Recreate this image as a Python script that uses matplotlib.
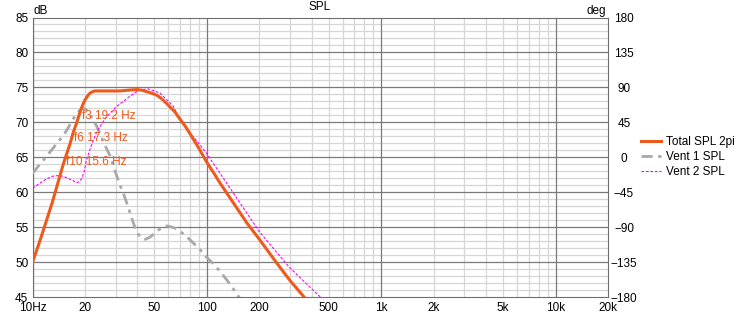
import matplotlib
matplotlib.use("Agg")
import matplotlib.pyplot as plt
import numpy as np

plt.rcParams["font.family"] = ["Liberation Sans", "DejaVu Sans"]
plt.rcParams["font.size"] = 8.5

# Total SPL 2pi (dB)
total_f = [10, 11, 12, 13, 14, 15, 15.7, 16.4, 17.1, 18, 18.75, 19.4, 20,
           20.7, 21.4, 22.1, 22.8, 25.5, 28, 31.8, 35, 39.6, 42.5, 45.2, 48,
           51.6, 55, 58.8, 65.6, 70, 75, 80, 90, 100, 110, 120, 142, 170, 200,
           250, 300, 374, 420]
total_db = [50.0, 53.0, 55.9, 58.6, 61.4, 64.0, 65.5, 66.9, 68.5, 70.1, 71.5,
            72.5, 73.2, 73.8, 74.2, 74.4, 74.5, 74.5, 74.5, 74.5, 74.6, 74.7,
            74.6, 74.4, 74.2, 73.9, 73.4, 72.7, 71.5, 70.5, 69.5, 68.4, 66.3,
            64.3, 62.7, 61.2, 58.5, 55.6, 53.3, 50.0, 47.4, 44.6, 43.0]

# Vent 1 SPL
vent1_f = [10, 11, 12, 13, 14, 15, 16, 17, 18, 19, 19.8, 20.6, 21.5, 22.5,
           23.3, 24.5, 25.5, 27, 27.8, 29.5, 31.7, 33.5, 35.5, 37, 38.7, 40.5,
           42.3, 44.5, 47.2, 50, 52.7, 55.5, 58.9, 62, 67, 73, 80.3, 91.4, 99,
           110, 119, 130, 140, 152, 165]
vent1_db = [62.7, 64.0, 65.1, 66.2, 67.2, 68.1, 69.2, 70.4, 71.3, 71.9, 72.0,
            71.7, 71.0, 70.2, 69.5, 68.3, 67.2, 65.9, 65.3, 63.3, 61.1, 59.6,
            57.8, 56.4, 55.0, 54.0, 53.4, 53.3, 53.6, 54.1, 54.6, 55.0, 55.2,
            55.1, 54.8, 54.1, 53.2, 51.8, 50.8, 49.7, 48.7, 47.5, 46.4, 45.1,
            43.8]

# Vent 2 SPL
vent2_f = [10, 11, 12, 13, 14, 15, 16, 17, 17.9, 18.5, 19.2, 19.8, 20.4, 21.4,
           22.3, 23.3, 24.4, 26, 27.8, 30.4, 33.2, 36, 39.6, 43, 46, 50, 53.9,
           58, 64.3, 70, 80, 90, 100, 120, 142, 170, 200, 250, 300, 445, 500]
vent2_db = [60.6, 61.3, 61.9, 62.3, 62.4, 62.3, 62.0, 61.7, 61.4, 61.5, 62.0,
            63.0, 64.6, 66.2, 67.4, 68.6, 69.4, 70.5, 71.3, 72.3, 73.0, 73.7,
            74.4, 74.7, 74.8, 74.5, 74.2, 73.4, 72.3, 70.4, 68.5, 67.0, 65.5,
            62.6, 59.9, 57.0, 54.4, 51.5, 49.2, 45.1, 44.0]

# corner frequencies
corner_labels = ["f3 19.2 Hz", "f6 17.3 Hz", "f10 15.6 Hz"]
corner_f = [19.2, 17.3, 15.6]
corner_y = [70.9, 67.8, 64.4]

xtick_f = [10, 20, 50, 100, 200, 500, 1000, 2000, 5000, 10000, 20000]
xtick_lbl = ["10Hz", "20", "50", "100", "200", "500", "1k", "2k", "5k", "10k", "20k"]
deg_ticks = np.arange(-180, 181, 45)

W, H = 739, 315
fig = plt.figure(figsize=(W / 100, H / 100), dpi=100)
ax = fig.add_axes([32.5 / W, (H - 297.3) / H, (608 - 32.5) / W, (297.3 - 17.5) / H])

ax.set_xscale("log")
ax.set_xlim(10, 20000)
ax.set_ylim(45, 85)

# grid, light then dark
light_x = [m * 10 ** d for d in range(1, 5) for m in range(2, 10) if m * 10 ** d < 20000]
ax.vlines(light_x, 45, 85, color="#d6d6d6", lw=0.9, zorder=0)
ax.hlines([v for v in range(46, 85) if v % 5], 10, 20000, color="#d6d6d6", lw=0.9, zorder=0)
ax.vlines([10, 100, 1000, 10000], 45, 85, color="#7a7a7a", lw=0.9, zorder=1)
ax.hlines(range(50, 85, 5), 10, 20000, color="#7a7a7a", lw=0.9, zorder=1)

ax.plot(total_f, total_db, color="#ee5a1c", lw=2.2, label="Total SPL 2pi",
        zorder=5, solid_joinstyle="round")
ax.plot(vent1_f, vent1_db, color="#a9a9a9", lw=2.0, dashes=(4, 2, 1.2, 2),
        label="Vent 1 SPL", zorder=3)
ax.plot(vent2_f, vent2_db, color="#ff00ff", lw=0.8, dashes=(2.5, 1.5),
        label="Vent 2 SPL", zorder=4)

for lbl, f, y in zip(corner_labels, corner_f, corner_y):
    ax.text(f, y, lbl, color="#ee5a1c", ha="left", va="center", fontsize=8.5, zorder=6)

ax.set_xticks(xtick_f, xtick_lbl)
ax.minorticks_off()
ax.set_yticks(range(45, 86, 5))
ax.tick_params(length=0, pad=3, colors="black")
ax.tick_params(axis="x", pad=3.5)
for s in ax.spines.values():
    s.set_color("#6e6e6e")

ax2 = ax.twinx()
ax2.set_ylim(-180, 180)
ax2.set_yticks(deg_ticks)
ax2.tick_params(length=0, pad=11.5)
for t in ax2.get_yticklabels():
    t.set_horizontalalignment("center")
for s in ax2.spines.values():
    s.set_visible(False)

fig.text(320 / W, 1 - 7.5 / H, "SPL", ha="center", va="center")
fig.text(34 / W, 1 - 11 / H, "dB", ha="left", va="center")
fig.text(606 / W, 1 - 11 / H, "deg", ha="right", va="center")

ax.legend(loc="upper left", bbox_to_anchor=(641 / W, 1 - 136.5 / H),
          bbox_transform=fig.transFigure, frameon=False, borderpad=0,
          borderaxespad=0, handlelength=1.7, handletextpad=0.45,
          labelspacing=0.25)

fig.savefig("out.png", dpi=100)
